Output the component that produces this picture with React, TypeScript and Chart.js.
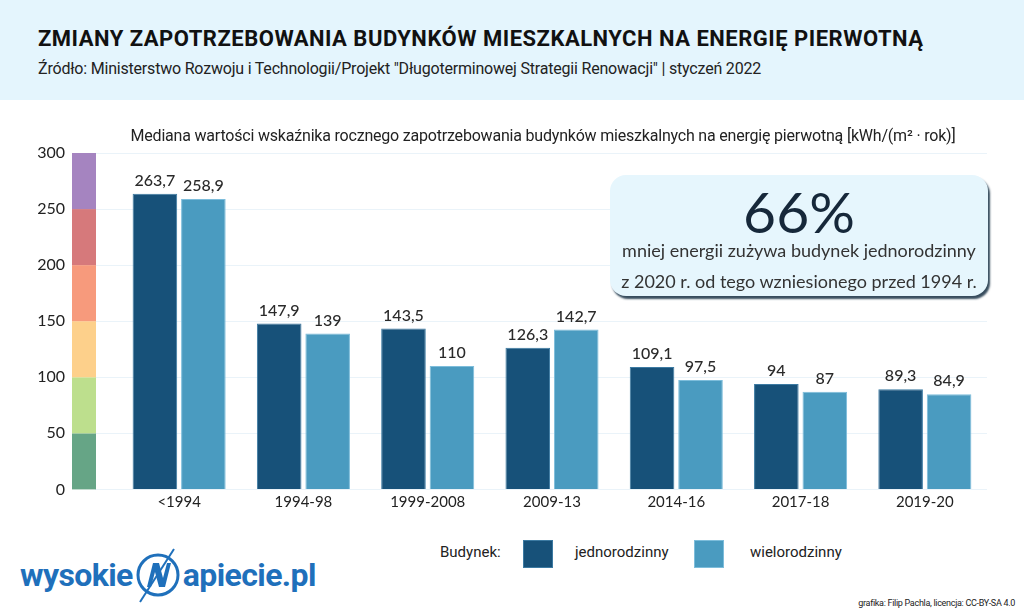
import React, { useEffect, useRef } from "react";
import { Chart, registerables } from "chart.js";

Chart.register(...registerables);

const categories = ["<1994", "1994-98", "1999-2008", "2009-13", "2014-16", "2017-18", "2019-20"];
const jednorodzinny = [263.7, 147.9, 143.5, 126.3, 109.1, 94, 89.3];
const wielorodzinny = [258.9, 139, 110, 142.7, 97.5, 87, 84.9];
const bandEdges = [0, 50, 100, 150, 200, 250, 300];
const bandColors = ["#66a586", "#bddf8d", "#fdd08b", "#f79a7c", "#d6797b", "#a584c0"];

const FONT = "Lato, 'Open Sans', sans-serif";
const HFONT = "Roboto, 'Open Sans', sans-serif";

const fmt = (v: number) => String(v).replace(".", ",");

const stripPlugin = {
  id: "strip",
  beforeDatasetsDraw(chart: any) {
    const y = chart.scales.y;
    const ctx = chart.ctx;
    const left = chart.chartArea.left - 45;
    const w = 24;
    ctx.save();
    for (let i = 0; i < bandColors.length; i++) {
      const top = y.getPixelForValue(bandEdges[i + 1]);
      const bottom = y.getPixelForValue(bandEdges[i]);
      ctx.fillStyle = bandColors[i];
      ctx.fillRect(left, top, w, bottom - top);
    }
    ctx.restore();
  },
};

const labelPlugin = {
  id: "valueLabels",
  afterDatasetsDraw(chart: any) {
    const ctx = chart.ctx;
    ctx.save();
    ctx.font = `500 16px ${FONT}`;
    ctx.fillStyle = "#2a2a2a";
    ctx.textAlign = "center";
    ctx.textBaseline = "bottom";
    chart.data.datasets.forEach((ds: any, di: number) => {
      const meta = chart.getDatasetMeta(di);
      meta.data.forEach((bar: any, i: number) => {
        ctx.fillText(fmt(ds.data[i]), bar.x, bar.y - 5);
      });
    });
    ctx.restore();
  },
};

function ChartCanvas() {
  const ref = useRef<HTMLCanvasElement>(null);
  useEffect(() => {
    if (!ref.current) return;
    const chart = new Chart(ref.current, {
      type: "bar",
      data: {
        labels: categories,
        datasets: [
          {
            label: "jednorodzinny",
            data: jednorodzinny,
            backgroundColor: "#175179",
            borderColor: "#3c7aa2",
            borderWidth: 1,
            categoryPercentage: 0.78,
            barPercentage: 0.92,
          },
          {
            label: "wielorodzinny",
            data: wielorodzinny,
            backgroundColor: "#4a9bc0",
            borderColor: "#7dbddb",
            borderWidth: 1,
            categoryPercentage: 0.78,
            barPercentage: 0.92,
          },
        ],
      },
      options: {
        animation: false,
        responsive: false,
        maintainAspectRatio: false,
        layout: { padding: { top: 53, right: 37, left: 0, bottom: 0 } },
        plugins: {
          legend: { display: false },
          tooltip: { enabled: false },
          title: { display: false },
        },
        scales: {
          x: {
            grid: { display: false },
            border: { display: false },
            ticks: { color: "#222", font: { family: FONT, size: 15 }, padding: -4 },
          },
          y: {
            min: 0,
            max: 300,
            ticks: {
              stepSize: 50,
              color: "#222",
              font: { family: FONT, size: 16 },
              padding: 30,
            },
            grid: { color: "#eaf3f9", tickColor: "#eaf3f9", tickLength: 22, lineWidth: 1 },
            border: { display: false },
            afterFit: (s: any) => {
              s.width = 117;
            },
          },
        },
      },
      plugins: [stripPlugin, labelPlugin],
    });
    return () => chart.destroy();
  }, []);
  return <canvas ref={ref} width={1024} height={429} style={{ position: "absolute", left: 0, top: 100 }} />;
}

function Logo() {
  return (
    <div style={{ position: "absolute", left: 20, top: 547, height: 56, display: "flex", alignItems: "center", color: "#1f70bb", fontFamily: HFONT, fontWeight: 700, fontSize: 32, letterSpacing: -0.6 }}>
      <span>wysokie</span>
      <svg width="48" height="56" viewBox="0 0 48 56" style={{ margin: "0 1px" }}>
        <circle cx="24" cy="28" r="20" fill="none" stroke="#1f70bb" strokeWidth="3" />
        <polygon points="13,40 19,16 25,16 29,31 33,16 37,16 31,40 25,40 21,25 17,40" fill="#1f70bb" />
        <line x1="40" y1="2" x2="6" y2="55" stroke="#1f70bb" strokeWidth="2" />
      </svg>
      <span>apiecie.pl</span>
    </div>
  );
}

export default function App() {
  return (
    <div style={{ position: "fixed", left: 0, top: 0, width: 1024, height: 614, background: "#fff", overflow: "hidden" }}>
      <div style={{ position: "absolute", left: 0, top: 0, width: 1024, height: 100, background: "#e4f5fd" }} />
      <div style={{ position: "absolute", left: 38, top: 26, fontFamily: HFONT, fontWeight: 700, fontSize: 22, color: "#111", whiteSpace: "nowrap", letterSpacing: 0.5 }}>
        ZMIANY ZAPOTRZEBOWANIA BUDYNKÓW MIESZKALNYCH NA ENERGIĘ PIERWOTNĄ
      </div>
      <div style={{ position: "absolute", left: 38, top: 59, fontFamily: HFONT, fontSize: 16, color: "#222", whiteSpace: "nowrap", letterSpacing: -0.2 }}>
        Źródło: Ministerstwo Rozwoju i Technologii/Projekt "Długoterminowej Strategii Renowacji" | styczeń 2022
      </div>
      <ChartCanvas />
      <div style={{ position: "absolute", left: 128, top: 126, width: 830, textAlign: "center", fontFamily: HFONT, fontSize: 16, color: "#222", whiteSpace: "nowrap", letterSpacing: -0.2 }}>
        Mediana wartości wskaźnika rocznego zapotrzebowania budynków mieszkalnych na energię pierwotną [kWh/(m² · rok)]
      </div>
      <div style={{ position: "absolute", left: 610, top: 175, width: 378, height: 121, borderRadius: 16, background: "#e6f6fd", boxShadow: "2px 3px 2px rgba(20,45,65,0.85)", textAlign: "center", fontFamily: FONT, color: "#333", whiteSpace: "nowrap" }}>
        <div style={{ fontSize: 57, color: "#16283a", lineHeight: "56px", marginTop: 8 }}>66%</div>
        <div style={{ fontSize: 18, lineHeight: "24px", marginTop: -1 }}>mniej energii zużywa budynek jednorodzinny</div>
        <div style={{ fontSize: 18, lineHeight: "24px", marginTop: 7 }}>z 2020 r. od tego wzniesionego przed 1994 r.</div>
      </div>
      <div style={{ position: "absolute", left: 440, top: 543, fontFamily: HFONT, fontSize: 15, color: "#222" }}>Budynek:</div>
      <div style={{ position: "absolute", left: 523, top: 540, width: 30, height: 28, background: "#175179", boxSizing: "border-box", border: "1px solid #3c7aa2" }} />
      <div style={{ position: "absolute", left: 575, top: 543, fontFamily: HFONT, fontSize: 15, color: "#222" }}>jednorodzinny</div>
      <div style={{ position: "absolute", left: 694, top: 540, width: 30, height: 28, background: "#4a9bc0", boxSizing: "border-box", border: "1px solid #7dbddb" }} />
      <div style={{ position: "absolute", left: 750, top: 543, fontFamily: HFONT, fontSize: 15, color: "#222" }}>wielorodzinny</div>
      <Logo />
      <div style={{ position: "absolute", right: 9, top: 598, fontFamily: HFONT, fontSize: 9, color: "#222", letterSpacing: -0.3, whiteSpace: "nowrap" }}>
        grafika: Filip Pachla, licencja: CC-BY-SA 4.0
      </div>
    </div>
  );
}
